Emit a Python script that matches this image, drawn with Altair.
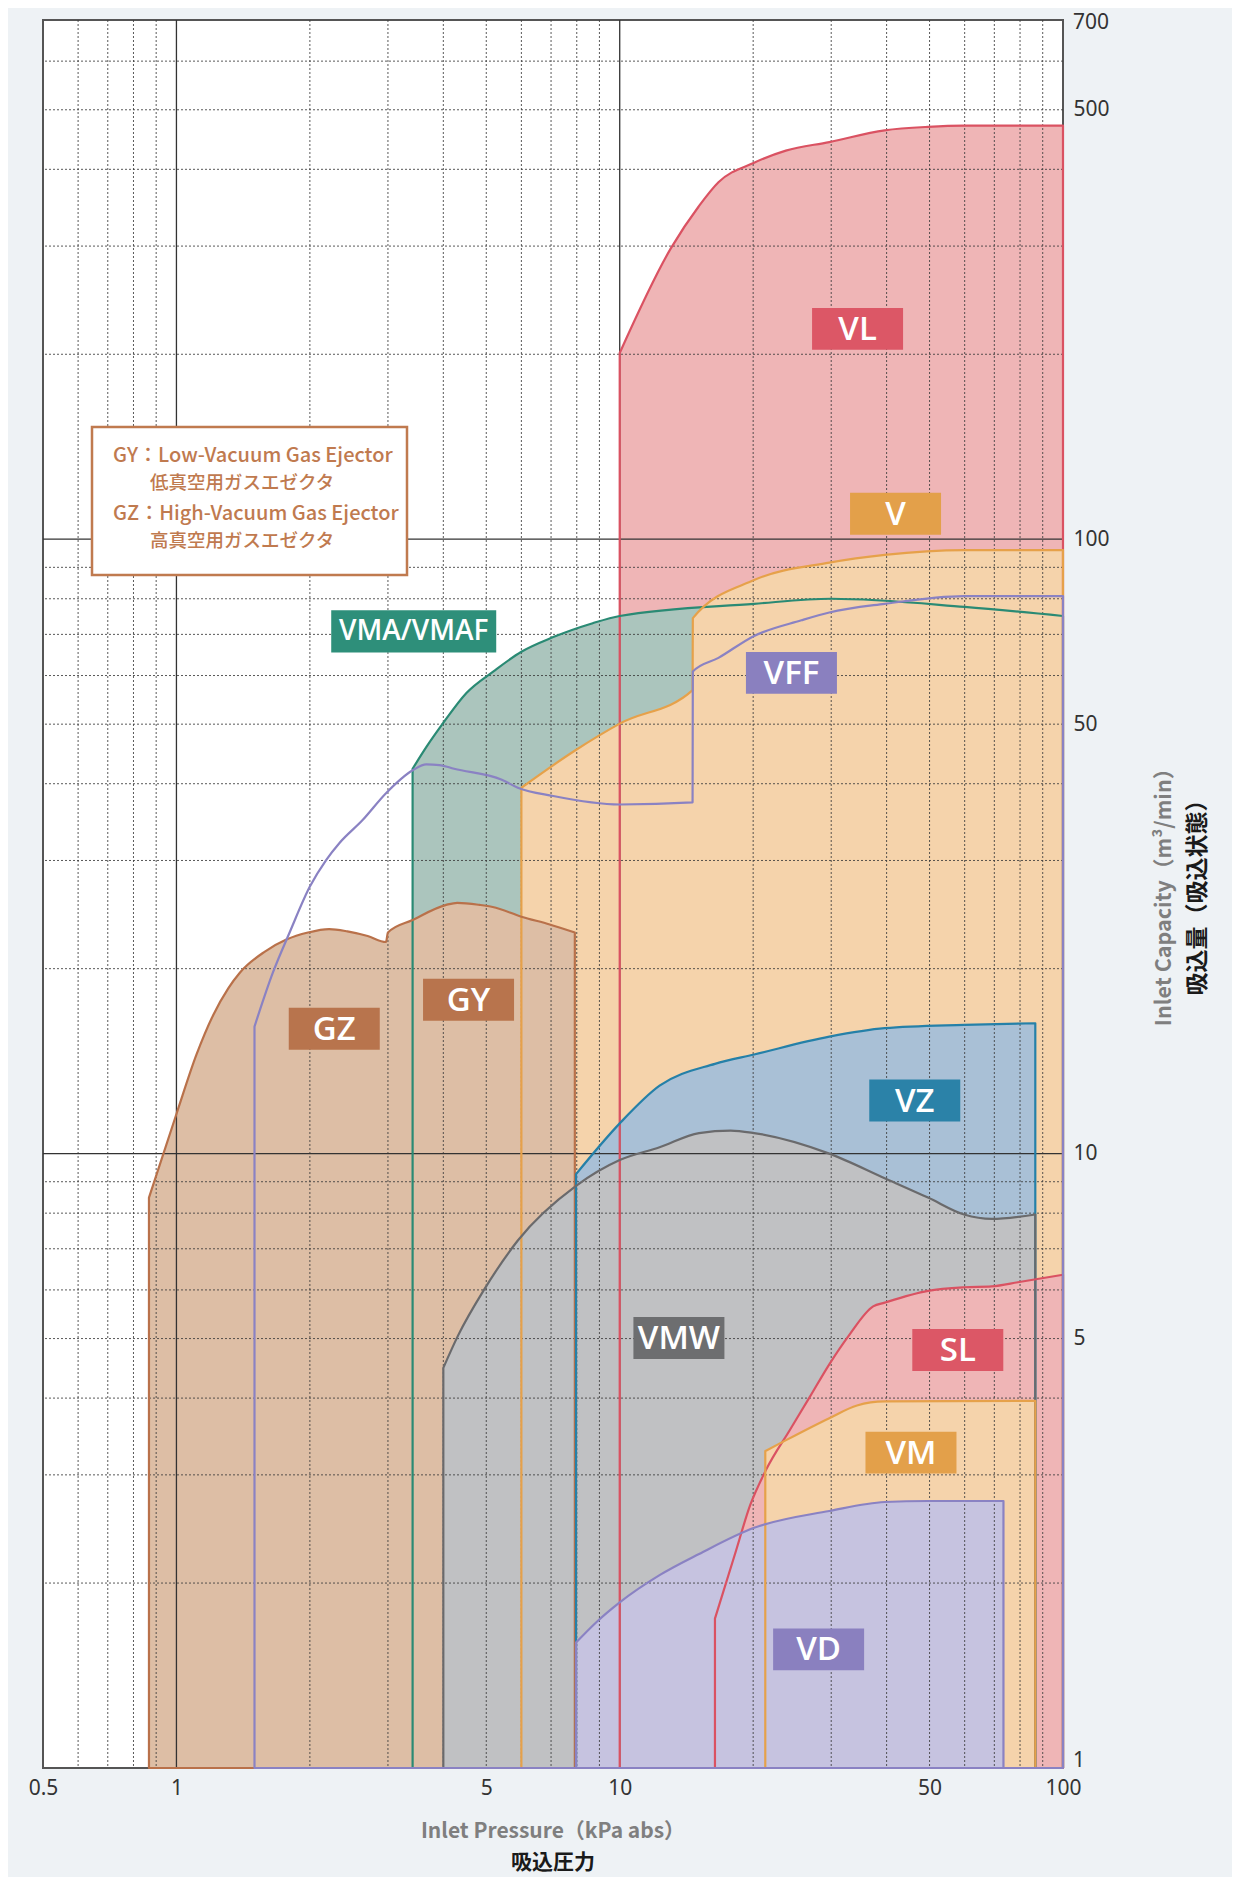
import altair as alt
import pandas as pd

# ---------------- data (x: inlet pressure kPa abs, y: inlet capacity m3/min) ----------------
VL_X = [10, 13.06, 15.07, 16.7, 20.1, 23.7, 29.7, 39.6, 49.6, 59.8, 100]
VL_Y = [201, 298, 348, 381, 410, 429, 443, 463, 469, 471, 471]

VMA_X = [3.41, 3.67, 3.98, 4.51, 5.2, 6.0, 7.08, 8.69, 10, 20.1, 30, 60, 100]
VMA_Y = [42.3, 46.0, 50, 56.2, 61, 65.6, 69.3, 73.0, 75, 78.5, 80, 77.6, 75]

V_X = [6.0, 7.93, 10, 14.6, 14.62, 20.1, 29.7, 39.6, 59.8, 100]
V_Y = [39.4, 45.3, 50.1, 56.8, 74.4, 85.8, 91.6, 94.3, 96, 96]

G_X = [0.867, 1.0, 1.11, 1.21, 1.31, 1.39, 1.58, 1.77, 1.98, 2.21, 2.43, 2.70, 2.97,
       3.0, 3.41, 4.06, 4.30, 4.83, 5.17, 6.0, 6.95, 7.92]
G_Y = [8.48, 11.6, 14.5, 16.8, 18.6, 19.7, 21.3, 22.3, 22.9, 23.2, 23.0, 22.6, 22.1,
       22.9, 24.0, 25.4, 25.6, 25.4, 25.2, 24.3, 23.6, 22.9]

VZ_X = [7.97, 10, 12.3, 16.4, 20.1, 29.7, 39.6, 59.8, 86.6]
VZ_Y = [9.26, 11.2, 12.9, 14.0, 14.5, 15.5, 16.0, 16.2, 16.3]

VMW_X = [4.0, 4.32, 4.94, 5.89, 7.97, 10, 12.3, 15.1, 17.8, 20.1, 29.7, 39.6, 49.6, 59.8, 69.0, 86.6]
VMW_Y = [4.48, 5.06, 6.0, 7.22, 8.86, 9.76, 10.24, 10.8, 10.9, 10.8, 10.0, 9.12, 8.48, 7.96, 7.83, 7.96]

SL_X = [16.4, 18.2, 19.7, 21.4, 24.2, 26.8, 29.7, 32.9, 37.3, 39.6, 49.6, 59.8, 69, 79.7, 100]
SL_Y = [1.75, 2.23, 2.68, 3.06, 3.55, 4.01, 4.54, 5.06, 5.64, 5.72, 5.98, 6.06, 6.08, 6.18, 6.35]

VM_X = [21.3, 22.7, 29.7, 34.3, 39.6, 86.6]
VM_Y = [3.28, 3.36, 3.71, 3.89, 3.95, 3.96]

VD_X = [7.97, 8.88, 10, 12.3, 15.1, 20.1, 29.7, 39.6, 49.6, 73.4]
VD_Y = [1.60, 1.73, 1.86, 2.06, 2.23, 2.46, 2.62, 2.71, 2.72, 2.72]

VFF_X = [1.5, 1.65, 1.80, 2.0, 2.18, 2.33, 2.63, 2.97, 3.42, 3.66, 3.92, 4.23, 5.42, 5.89,
         7.08, 10, 14.6, 14.62, 16.7, 20.1, 25.7, 29.7, 39.6, 59.8, 100]
VFF_Y = [16.1, 19.7, 22.9, 27.2, 30.1, 32.0, 34.9, 38.6, 42.1, 43.0, 42.9, 42.3, 40.6, 39.4,
         38.2, 37.0, 37.3, 60.9, 64.1, 69.6, 73.8, 76.0, 78.5, 80.8, 80.8]

LABEL_NAMES = ["VL", "V", "VFF", "GZ", "GY", "VZ", "VMW", "SL", "VM", "VD"]
LABEL_X = [34.4, 41.9, 24.4, 2.27, 4.56, 46.3, 13.6, 57.9, 45.4, 28.1]
LABEL_Y = [220, 110, 60.6, 15.97, 17.8, 12.2, 5.01, 4.79, 3.26, 1.56]
WIDE_LABEL = ["VMA/VMAF"]
WIDE_X = [3.43]
WIDE_Y = [70.8]

X_LABELS = [0.5, 1, 5, 10, 50, 100]
Y_LABELS = [5, 10, 50, 100, 500]
Y_BOTTOM_LABEL = [1]
Y_TOP_LABEL = [700]
GRID_X_MINOR = [0.6, 0.7, 0.8, 0.9, 2, 3, 4, 5, 6, 7, 8, 9, 20, 30, 40, 50, 60, 70, 80, 90]
GRID_X_MAJOR = [1, 10]
GRID_Y_MINOR = [2, 3, 4, 5, 6, 7, 8, 9, 20, 30, 40, 50, 60, 70, 80, 90, 200, 300, 400, 500, 600]
GRID_Y_MAJOR = [10, 100]

# ---------------- styles ----------------
SHAPES = [
    ("VL", VL_X, VL_Y, "#efb5b6", "#da5262"),
    ("VMA", VMA_X, VMA_Y, "#abc5bd", "#2a8a74"),
    ("V", V_X, V_Y, "#f5d3ab", "#e6a14a"),
    ("G", G_X, G_Y, "#ddbea5", "#b9714a"),
    ("VZ", VZ_X, VZ_Y, "#a9c0d6", "#2580a8"),
    ("VMW", VMW_X, VMW_Y, "#c0c1c3", "#6a6a6c"),
    ("SL", SL_X, SL_Y, "#efb5b6", "#da5262"),
    ("VM", VM_X, VM_Y, "#f5d3ab", "#e6a14a"),
    ("VD", VD_X, VD_Y, "#c6c3e0", "#8a82c3"),
]
LABEL_COLORS = ["#dc5766", "#e3a04a", "#8a80bf", "#b8744d", "#b8744d",
                "#2b82a8", "#6d6e70", "#dc5766", "#e3a04a", "#8a80bf"]
WIDE_COLORS = ["#2e8f7a"]

W, H = 1020, 1748
xs = alt.Scale(type="log", domain=[0.5, 100], nice=False)
ys = alt.Scale(type="log", domain=[1, 700], nice=False)

xaxis = alt.Axis(values=X_LABELS, format="~g", labelFlush=False, labelOverlap=False,
                 labelPadding=9, ticks=False, domain=False, grid=False)
yaxis = alt.Axis(orient="right", values=Y_LABELS, format="~g", labelFlush=False,
                 labelOverlap=False, labelPadding=10, ticks=False, domain=False, grid=False,
                 labelAlign="left")


def xenc():
    return alt.X("x:Q", scale=xs, axis=xaxis, title=None)


def yenc():
    return alt.Y("y:Q", scale=ys, axis=yaxis, title=None)


def shape_df(xv, yv):
    return pd.DataFrame({"x": xv, "y": yv, "y0": [1] * len(xv)})


layers = []
# fills
for name, xv, yv, fill, stroke in SHAPES:
    layers.append(
        alt.Chart(shape_df(xv, yv)).mark_area(fill=fill, opacity=1, interpolate="monotone")
        .encode(x=xenc(), y=yenc(), y2=alt.Y2("y0:Q"))
    )

# grid
layers.append(alt.Chart(pd.DataFrame({"x": GRID_X_MINOR})).mark_rule(
    color="#3c3c3c", strokeWidth=1, strokeDash=[2, 2], opacity=0.85).encode(x=xenc()))
layers.append(alt.Chart(pd.DataFrame({"y": GRID_Y_MINOR})).mark_rule(
    color="#3c3c3c", strokeWidth=1, strokeDash=[2, 2], opacity=0.85).encode(y=yenc()))
layers.append(alt.Chart(pd.DataFrame({"x": GRID_X_MAJOR})).mark_rule(
    color="#333333", strokeWidth=1.3).encode(x=xenc()))
layers.append(alt.Chart(pd.DataFrame({"y": GRID_Y_MAJOR})).mark_rule(
    color="#333333", strokeWidth=1.3).encode(y=yenc()))

# outlines
for name, xv, yv, fill, stroke in SHAPES:
    layers.append(
        alt.Chart(shape_df(xv, yv)).mark_area(fillOpacity=0, stroke=stroke, strokeWidth=2.2,
                                              interpolate="monotone", strokeJoin="round")
        .encode(x=xenc(), y=yenc(), y2=alt.Y2("y0:Q"))
    )
layers.append(
    alt.Chart(shape_df(VFF_X, VFF_Y)).mark_area(fillOpacity=0, stroke="#8a82c3", strokeWidth=2.2,
                                                interpolate="monotone", strokeJoin="round")
    .encode(x=xenc(), y=yenc(), y2=alt.Y2("y0:Q"))
)

# label boxes
lab_df = pd.DataFrame({"x": LABEL_X, "y": LABEL_Y, "name": LABEL_NAMES, "c": LABEL_COLORS})
wide_df = pd.DataFrame({"x": WIDE_X, "y": WIDE_Y, "name": WIDE_LABEL, "c": WIDE_COLORS})
layers.append(alt.Chart(lab_df).mark_point(
    shape="M-1,-0.46L1,-0.46L1,0.46L-1,0.46Z", size=8281, filled=True, opacity=1, strokeWidth=0)
    .encode(x=xenc(), y=yenc(), color=alt.Color("c:N", scale=None)))
layers.append(alt.Chart(wide_df).mark_point(
    shape="M-1,-0.255L1,-0.255L1,0.255L-1,0.255Z", size=27225, filled=True, opacity=1, strokeWidth=0)
    .encode(x=xenc(), y=yenc(), color=alt.Color("c:N", scale=None)))
layers.append(alt.Chart(lab_df).mark_text(
    font="Open Sans", fontWeight=600, fontSize=33, color="white", baseline="middle", dy=1)
    .encode(x=xenc(), y=yenc(), text="name:N"))
layers.append(alt.Chart(wide_df).mark_text(
    font="Open Sans", fontWeight=600, fontSize=28, color="white", baseline="middle", dy=1)
    .encode(x=xenc(), y=yenc(), text="name:N"))

# end labels of the y axis, nudged inside the chart edges
layers.append(alt.Chart(pd.DataFrame({"x": [100], "y": Y_BOTTOM_LABEL})).mark_text(
    font="Noto Sans", fontSize=21, color="#333333", align="left", baseline="middle", dx=10, dy=-7)
    .encode(x=xenc(), y=yenc(), text=alt.Text("y:Q", format="~g")))
layers.append(alt.Chart(pd.DataFrame({"x": [100], "y": Y_TOP_LABEL})).mark_text(
    font="Noto Sans", fontSize=21, color="#333333", align="left", baseline="middle", dx=10, dy=3)
    .encode(x=xenc(), y=yenc(), text=alt.Text("y:Q", format="~g")))

# note box
BROWN = "#c07a4f"
layers.append(alt.Chart(pd.DataFrame({"a": [0]})).mark_rect(
    fill="white", stroke=BROWN, strokeWidth=2.5)
    .encode(x=alt.value(49), x2=alt.value(364), y=alt.value(407), y2=alt.value(555)))
NOTE_LINES = ["GY：Low-Vacuum Gas Ejector", "低真空用ガスエゼクタ",
              "GZ：High-Vacuum Gas Ejector", "高真空用ガスエゼクタ"]
NOTE_POS = [(70, 436, 20), (107, 463, 18.5), (70, 494, 20), (107, 521, 18.5)]
for t, (px, py, fs) in zip(NOTE_LINES, NOTE_POS):
    layers.append(alt.Chart(pd.DataFrame({"t": [t]})).mark_text(
        font="Noto Sans CJK JP", fontWeight=500, fontSize=fs, color=BROWN,
        align="left", baseline="middle")
        .encode(x=alt.value(px), y=alt.value(py), text="t:N"))

# axis titles (two lines, two colours)
TITLES = [
    ("Inlet Pressure（kPa abs）", 510, 1812, 0, "#7f7f7f", 21),
    ("吸込圧力", 510, 1843, 0, "#1a1a1a", 21),
    ("Inlet Capacity（m³/min）", 1122, 872, 270, "#7f7f7f", 21.5),
    ("吸込量（吸込状態）", 1155, 872, 270, "#1a1a1a", 23),
]
for t, px, py, ang, col, fs in TITLES:
    layers.append(alt.Chart(pd.DataFrame({"t": [t]})).mark_text(
        font="Noto Sans CJK JP", fontWeight="bold", fontSize=fs, color=col,
        align="center", baseline="middle", angle=ang)
        .encode(x=alt.value(px), y=alt.value(py), text="t:N"))

chart = alt.layer(*layers).properties(
    width=W, height=H,
    autosize=alt.AutoSizeParams(type="none"),
    padding={"left": 35, "top": 12, "right": 169, "bottom": 109},
).configure(background="#eef2f5").configure_view(
    fill="white", stroke="#555555", strokeWidth=2
).configure_axis(
    labelFont="Noto Sans", labelFontSize=21, labelColor="#333333"
)

chart.save("out.html", embed_options={"renderer": "svg", "actions": False})
